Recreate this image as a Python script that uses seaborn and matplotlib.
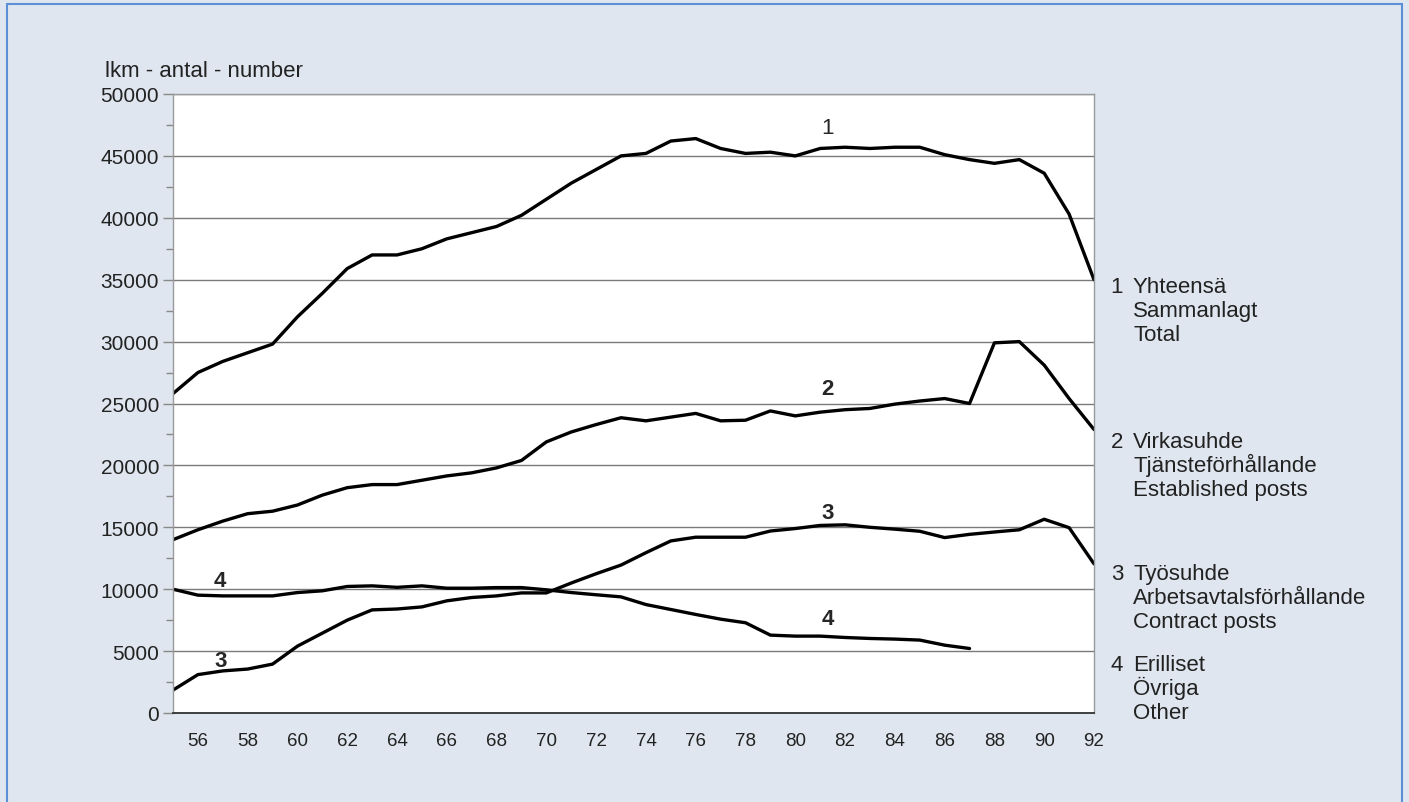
import matplotlib
matplotlib.use('Agg')
import matplotlib.pyplot as plt
from matplotlib.patches import Rectangle
from matplotlib.ticker import MultipleLocator
import numpy as np
import pandas as pd
import seaborn as sns

sns.set_style('white')
plt.rcParams['font.family'] = ['Liberation Sans', 'DejaVu Sans']

# data (years 1955-1992, persons)
years = list(range(55, 93))
total = [25800, 27500, 28400, 29100, 29800, 32000, 33900, 35900, 37000, 37000,
         37500, 38300, 38800, 39300, 40200, 41500, 42800, 43900, 45000, 45200,
         46200, 46400, 45600, 45200, 45300, 45000, 45600, 45700, 45600, 45700,
         45700, 45100, 44700, 44400, 44700, 43600, 40300, 35000]
established = [14000, 14800, 15500, 16100, 16300, 16800, 17600, 18200, 18450, 18450,
               18800, 19150, 19400, 19800, 20400, 21900, 22700, 23300, 23850, 23600,
               23900, 24200, 23600, 23650, 24400, 24000, 24300, 24500, 24600, 24950,
               25200, 25400, 25000, 29900, 30000, 28100, 25400, 22900]
contract = [1850, 3100, 3400, 3550, 3950, 5400, 6450, 7500, 8330, 8400,
            8570, 9060, 9330, 9460, 9700, 9700, 10500, 11250, 11950, 12950,
            13900, 14200, 14200, 14200, 14700, 14900, 15150, 15200, 15000, 14850,
            14680, 14170, 14430, 14620, 14800, 15650, 14970, 12050]
other_years = list(range(55, 88))
other = [10000, 9520, 9460, 9460, 9460, 9730, 9870, 10220, 10270, 10150,
         10270, 10080, 10080, 10130, 10130, 9950, 9730, 9550, 9380, 8760,
         8360, 7960, 7580, 7290, 6290, 6210, 6210, 6100, 6020, 5970,
         5890, 5480, 5210]

legend_lines = [('1', ['Yhteensä', 'Sammanlagt', 'Total']),
                ('2', ['Virkasuhde', 'Tjänsteförhållande', 'Established posts']),
                ('3', ['Työsuhde', 'Arbetsavtalsförhållande', 'Contract posts']),
                ('4', ['Erilliset', 'Övriga', 'Other'])]

W, H = 1409, 803
bg = '#dfe6ef'
fig = plt.figure(figsize=(W / 100, H / 100), dpi=100, facecolor=bg)
fig.patches.append(Rectangle((7 / W, -0.01), (1402 - 7) / W, 1.01 - 5 / H,
                             transform=fig.transFigure, fill=False,
                             edgecolor='#5b8fd6', linewidth=1.5))

ax = fig.add_axes([173 / W, 89 / H, (1094 - 173) / W, (714 - 95) / H])
ax.set_facecolor('white')

for xs, ys in [(years, total), (years, established), (years, contract), (other_years, other)]:
    sns.lineplot(x=xs, y=ys, ax=ax, color='black', linewidth=2.4)

ax.set_xlim(55, 92)
ax.set_ylim(0, 50000)
ax.set_xticks(years)
ax.set_xticklabels([str(y) if y % 2 == 0 and y != 55 else '' for y in years])
ax.yaxis.set_major_locator(MultipleLocator(5000))
ax.yaxis.set_minor_locator(MultipleLocator(2500))
ax.grid(axis='y', which='major', color='#7a7a7a', linewidth=1)
ax.set_axisbelow(True)

ax.tick_params(axis='x', direction='inout', length=15, width=1, color='#555555',
               labelsize=13.5, pad=6, labelcolor='#222222')
ax.tick_params(axis='y', which='major', direction='out', length=7, width=1,
               color='#888888', labelsize=15, pad=3, labelcolor='#222222', left=True)
ax.tick_params(axis='y', which='minor', direction='out', length=5, width=1,
               color='#888888', left=True)
for side in ['left', 'top', 'right']:
    ax.spines[side].set_color('#9a9a9a')
    ax.spines[side].set_linewidth(1)
ax.spines['bottom'].set_color('#333333')
ax.spines['bottom'].set_linewidth(1.3)
ax.set_xlabel('')
ax.set_ylabel('')

# inline series numbers
ax.text(81.3, 47300, '1', fontsize=16, ha='center', va='center')
for x, y, s in [(81.3, 26200, '2'), (81.3, 16200, '3'), (81.3, 7650, '4'),
                (56.9, 10700, '4'), (56.9, 4230, '3')]:
    ax.text(x, y, s, fontsize=16, fontweight='bold', ha='center', va='center')

fig.text(105 / W, 1 - 77 / H, 'lkm - antal - number', fontsize=16,
         ha='left', va='baseline', color='#222222')

# right-hand legend text
starts = [285, 440, 572, 663]
for (num, lines), y0 in zip(legend_lines, starts):
    fig.text(1123 / W, 1 - (y0 + 8) / H, num, fontsize=16, ha='right', va='baseline', color='#222222')
    for i, line in enumerate(lines):
        fig.text(1133 / W, 1 - (y0 + 8 + i * 24) / H, line, fontsize=16,
                 ha='left', va='baseline', color='#222222')

fig.savefig('out.png', dpi=100, facecolor=bg)
